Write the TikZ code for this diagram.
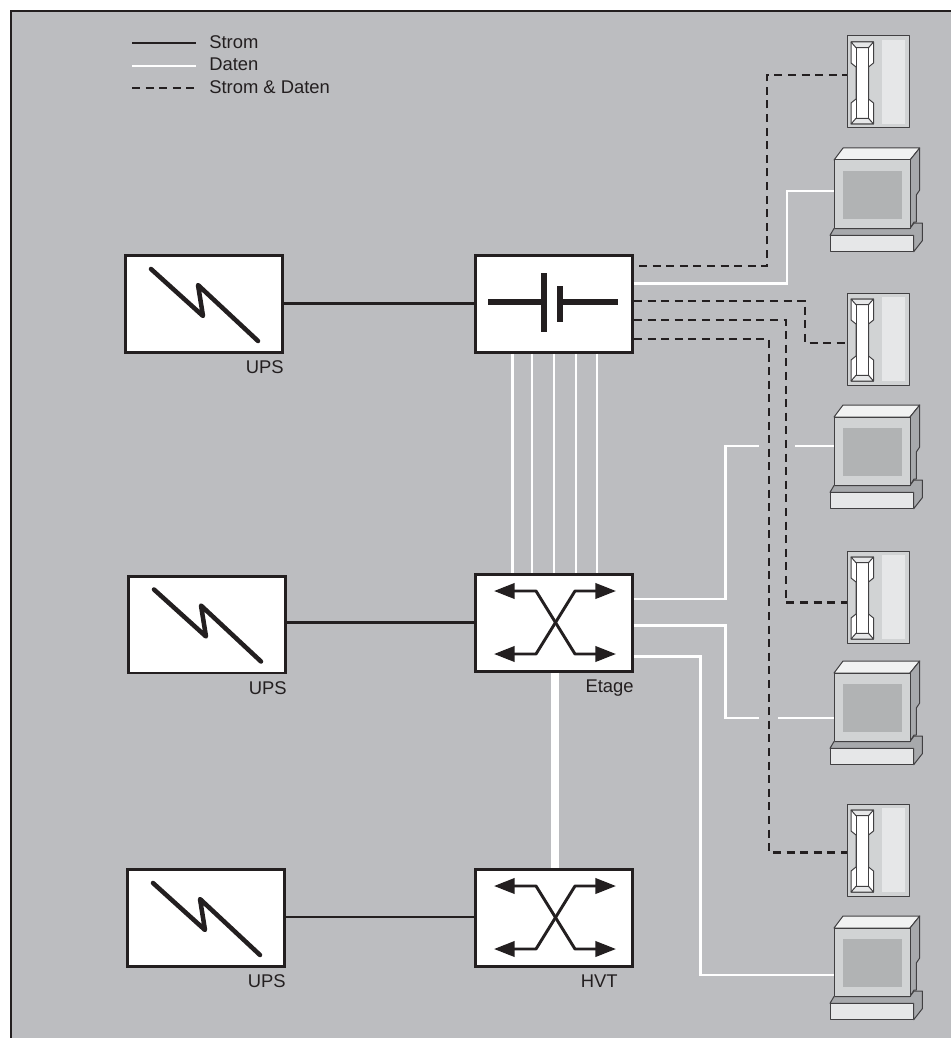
\documentclass[tikz,border=0pt]{standalone}
\usepackage{fontspec}
\setmainfont{Liberation Sans}
\usetikzlibrary{positioning,arrows.meta,calc}
\definecolor{ink}{HTML}{231F20}
\definecolor{panel}{HTML}{BCBDC0}
\definecolor{bodygray}{HTML}{D1D3D4}
\definecolor{lightgray}{HTML}{E6E7E8}
\definecolor{screengray}{HTML}{B1B3B4}
\definecolor{sidegray}{HTML}{A7A9AC}
\definecolor{topgray}{HTML}{F1F2F2}
\definecolor{edgegray}{HTML}{414042}
\tikzset{
  box/.style={rectangle,draw=ink,line width=2.2pt,fill=white,minimum width=117.7pt,minimum height=72.7pt},
  lbl/.style={font=\fontsize{13.8}{15}\selectfont,text=ink,inner sep=0pt},
  power/.style={draw=ink,line width=1.7pt},
  data/.style={draw=white,line width=2.2pt},
  both/.style={draw=ink,line width=2.2pt,dash pattern=on 6pt off 4.2pt},
  bolt/.style={draw=ink,line width=3.4pt,line cap=round,line join=round},
  cell/.style={draw=ink,line width=4pt},
  swline/.style={draw=ink,line width=2.2pt,line join=round,{Triangle[length=15.5pt,width=11.5pt]}-{Triangle[length=15.5pt,width=11.5pt]}},
  thin part/.style={draw=edgegray,line width=0.75pt,line join=round},
  phone/.pic={
    \node[thin part,fill=bodygray,minimum width=46.5pt,minimum height=69pt,inner sep=0pt,outer sep=0pt,anchor=north west] (-body) at (0,0) {};
    \fill[lightgray] (34.7,4.3) rectangle (57.7,87.7);
    \draw[thin part,fill=white] (4,6) -- (26.5,6) -- (26.5,27) -- (21.5,31) -- (21.5,63) -- (26.5,67)
      -- (26.5,88) -- (4,88) -- (4,67) -- (9,63) -- (9,31) -- (4,27) -- cycle;
    \draw[thin part,fill=lightgray] (4,6) -- (26.5,6) -- (21.5,11.7) -- (9,11.7) -- cycle;
    \draw[thin part,fill=lightgray] (4,88) -- (26.5,88) -- (21.5,82.3) -- (9,82.3) -- cycle;
    \draw[thin part] (9,11.7) -- (9,82.3) (21.5,11.7) -- (21.5,82.3);
  },
  monitor/.pic={
    \draw[thin part,fill=topgray] (0,0) -- (9,-12) -- (85.7,-12) -- (76,0) -- cycle;
    \draw[thin part,fill=sidegray] (76,0) -- (85.7,-12) -- (85.7,30) -- (82.3,35) -- (82.3,62) -- (80,62) -- (76,68.5) -- cycle;
    \draw[thin part,fill=sidegray] (-4,75.3) -- (0,68.5) -- (76,68.5) -- (80,63) -- (88.3,63) -- (88.3,80.7)
      -- (79.7,91.7) -- (79.7,75.3) -- cycle;
    \draw[thin part,fill=lightgray] (-4,75.3) rectangle (79.7,91.7);
    \node[thin part,fill=bodygray,minimum width=57pt,minimum height=51.4pt,inner sep=0pt,outer sep=0pt,anchor=north west] (-body) at (0,0) {};
    \fill[screengray] (8.7,10.7) rectangle (67.7,58.7);
  }
}
\begin{document}
\begin{tikzpicture}[x=0.75pt,y=-0.75pt]
\useasboundingbox (0,0) rectangle (950,1038);
\fill[white] (0,0) rectangle (950,1038);
\draw[draw=ink,line width=2.2pt,fill=panel] (11,11) rectangle (960,1050);
% legend
\node[lbl,anchor=base west] (strom) at (209,48.3) {Strom};
\node[lbl,anchor=base west] (daten) at (209,71) {Daten};
\node[lbl,anchor=base west] (beides) at (209,93.3) {Strom \& Daten};
\coordinate (keya) at (132,43);
\coordinate (keyb) at (132,66);
\coordinate (keyc) at (132,88);
\draw[power] (keya) -- ++(64,0);
\draw[data] (keyb) -- ++(64,0);
\draw[both] (keyc) -- ++(64,0);
% power supplies
\node[box] (upsa) at (204,304) {};
\node[box] (upsb) at (207,624.5) {};
\node[box] (upsc) at (206,918) {};
\node[lbl,below left=5pt and 0pt of upsa.south east] (upsalbl) {UPS};
\node[lbl,below left=5pt and 0pt of upsb.south east] (upsblbl) {UPS};
\node[lbl,below left=5pt and 0pt of upsc.south east] (upsclbl) {UPS};
\foreach \n in {upsa,upsb,upsc}
  \draw[bolt] ($(\n)+(-53,-35)$) -- ($(\n)+(-1,12)$) -- ($(\n)+(-6,-19)$) -- ($(\n)+(54,37)$);
% battery and distributors
\node[box] (batt) at (554,304) {};
\node[box] (etage) at (554,623) {};
\node[box] (hvt) at (554,918) {};
\node[lbl,below left=5pt and 0pt of etage.south east] (etagelbl) {Etage};
\node[lbl,below left=5pt and 12pt of hvt.south east] (hvtlbl) {HVT};
\draw[cell] ($(batt)+(-66,-2)$) -- ($(batt)+(-10,-2)$);
\draw[cell] ($(batt)+(5,-2)$) -- ($(batt)+(64,-2)$);
\draw[cell] ($(batt)+(-10,-31)$) -- ($(batt)+(-10,28)$);
\draw[cell] ($(batt)+(6,-18)$) -- ($(batt)+(6,18)$);
\foreach \n in {etage,hvt} {
  \draw[swline] ($(\n)+(-60,-32)$) -- ($(\n)+(-18,-32)$) -- ($(\n)+(21,31)$) -- ($(\n)+(62,31)$);
  \draw[swline] ($(\n)+(-60,31)$) -- ($(\n)+(-18,31)$) -- ($(\n)+(21,-32)$) -- ($(\n)+(62,-32)$);
}
% terminals
\pic (phonea) at (847,36) {phone};
\pic (phoneb) at (847,293) {phone};
\pic (phonec) at (847,551) {phone};
\pic (phoned) at (847,804) {phone};
\pic (mona) at (834,160) {monitor};
\pic (monb) at (834,417) {monitor};
\pic (monc) at (834,673) {monitor};
\pic (mond) at (834,928) {monitor};
% power lines
\draw[power] (upsa.east |- 0,303.5) -- (batt.west |- 0,303.5);
\draw[power] (upsb.east |- 0,622.5) -- (etage.west |- 0,622.5);
\draw[power] (upsc.east |- 0,917) -- (hvt.west |- 0,917);
% risers
\foreach \x in {512.7,532,554,576,597}
  \draw[data] (batt.south -| \x,0) -- (etage.north -| \x,0);
\draw[draw=white,line width=6pt] (etage.south -| 554.7,0) -- (hvt.north -| 554.7,0);
% combined lines
\coordinate (batta) at (639,266);
\draw[both] (batta) -| (767,75) -- (phonea-body.west |- 0,75);
\draw[both] (batt.east |- 0,301) -| (805,343) -- (phoneb-body.west |- 0,343);
\draw[both] (batt.east |- 0,320) -| (786,602.7) -- (phonec-body.west |- 0,602.7);
\draw[both] (batt.east |- 0,339) -| (769,852.7) -- (phoned-body.west |- 0,852.7);
% data lines
\draw[data] (batt.east |- 0,283.5) -| (787,191) -- (mona-body.west |- 0,191);
\coordinate (gapa) at (759,446);
\coordinate (gapb) at (795,446);
\coordinate (gapc) at (759,718);
\coordinate (gapd) at (778,718);
\draw[data] (etage.east |- 0,599) -| (725.7,446) -- (gapa);
\draw[data] (gapb) -- (monb-body.west |- gapb);
\draw[data] (etage.east |- 0,625.7) -| (725.7,718) -- (gapc);
\draw[data] (gapd) -- (monc-body.west |- gapd);
\draw[data] (etage.east |- 0,656.7) -| (700.7,975) -- (mond-body.west |- 0,975);
\end{tikzpicture}
\end{document}
